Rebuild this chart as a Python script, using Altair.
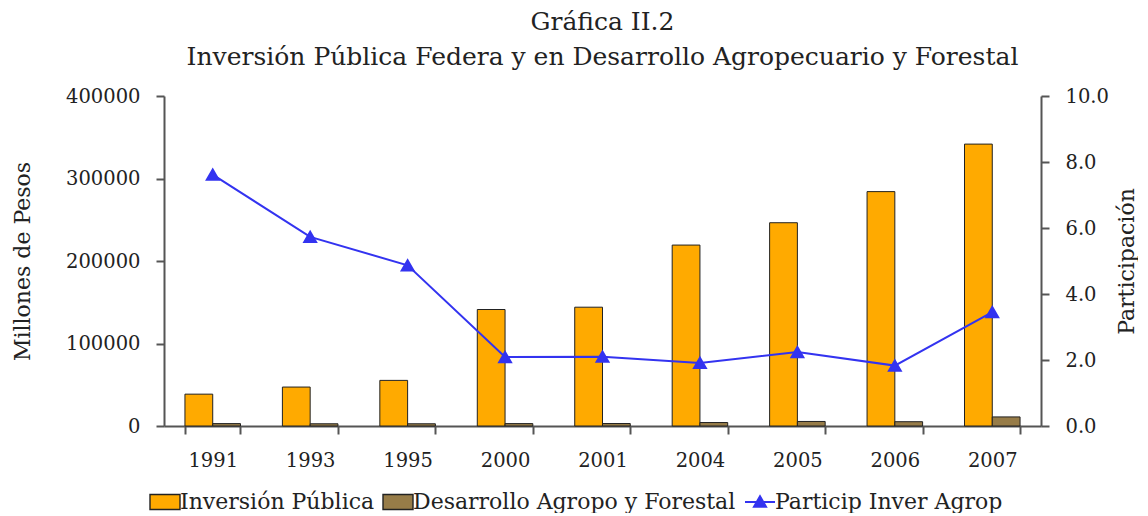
import altair as alt
import pandas as pd

years = ["1991", "1993", "1995", "2000", "2001", "2004", "2005", "2006", "2007"]
inversion = [38600, 47200, 55300, 141200, 144000, 219300, 246400, 284100, 341700]
desarrollo = [2900, 2700, 2700, 2900, 3000, 4200, 5500, 5200, 11000]
particip = [7.62, 5.73, 4.87, 2.09, 2.10, 1.91, 2.24, 1.83, 3.45]
series_names = ["Inversión Pública", "Desarrollo Agropo y Forestal", "Particip Inver Agrop"]
series_colors = ["#FFAA00", "#977C48", "#3333F0"]
series_strokes = ["#222222", "#222222", "#3333F0"]

FONT = "DejaVu Serif"
TXT = "#222222"

bar_df = pd.DataFrame({
    "year": years * 2,
    "serie": [series_names[0]] * len(years) + [series_names[1]] * len(years),
    "valor": inversion + desarrollo,
})
line_df = pd.DataFrame({"year": years, "part": particip})

xscale = alt.Scale(paddingInner=0.43, paddingOuter=0.215)

shape_sig = ("datum.value === 'Particip Inver Agrop' ? "
             "'M-1,0H1M-0.4,0.32L0,-0.38L0.4,0.32Z' : 'M-1,-0.5H1V0.5H-1Z'")
sw_sig = "datum.value === 'Particip Inver Agrop' ? 2 : 1.4"

legend = alt.Legend(
    orient="none", legendX=-10, legendY=395, direction="horizontal", title=None,
    labelFont=FONT, labelFontSize=22, labelColor=TXT, labelLimit=500,
    symbolSize=900, labelOffset=4, columnPadding=5,
    symbolType={"expr": shape_sig},
    symbolStrokeWidth={"expr": sw_sig},
)

bars = alt.Chart(bar_df).mark_bar(strokeWidth=1).encode(
    x=alt.X("year:N", sort=years, scale=xscale, title=None,
            axis=alt.Axis(labelAngle=0, tickBand="extent", labelPadding=17, tickSize=8)),
    xOffset=alt.XOffset("serie:N", sort=series_names[:2], scale=alt.Scale(paddingInner=0, paddingOuter=0)),
    y=alt.Y("valor:Q", scale=alt.Scale(domain=[0, 400000]),
            axis=alt.Axis(values=[0, 100000, 200000, 300000, 400000], format="d",
                          title="Millones de Pesos", grid=False, tickSize=8, labelPadding=16,
                          titlePadding=31)),
    color=alt.Color("serie:N", scale=alt.Scale(domain=series_names, range=series_colors), legend=legend),
    stroke=alt.Stroke("serie:N", scale=alt.Scale(domain=series_names, range=series_strokes), legend=legend),
)

line = alt.Chart(line_df).mark_line(
    strokeWidth=2,
    point=alt.OverlayMarkDef(shape="triangle-up", filled=True, size=140, color="#0000DD"),
).encode(
    x=alt.X("year:N", sort=years),
    y=alt.Y("part:Q", scale=alt.Scale(domain=[0, 10]),
            axis=alt.Axis(orient="right", values=[0, 2, 4, 6, 8, 10], format=".1f",
                          title="Participación", titleAngle=270, grid=False, tickSize=8,
                          labelPadding=16, titlePadding=30)),
    color=alt.datum(series_names[2]),
    stroke=alt.datum(series_names[2]),
)

chart = alt.layer(bars, line).resolve_scale(y="independent").properties(
    width=877, height=330,
    padding={"left": 3, "top": 2, "right": 0, "bottom": 0},
    title=alt.Title(["Gráfica II.2",
                     "Inversión Pública Federa y en Desarrollo Agropecuario y Forestal"],
                    font=FONT, fontSize=25, fontWeight="normal", color=TXT,
                    anchor="middle", offset=16, lineHeight=35),
).configure_axis(
    labelFont=FONT, labelFontSize=19.5, labelColor=TXT,
    titleFont=FONT, titleFontSize=22, titleFontWeight="normal", titleColor=TXT,
    domainColor="#555555", tickColor="#555555", domainWidth=2, tickWidth=2,
).configure_view(stroke=None)

chart.save("out.html", embed_options={"renderer": "svg", "actions": False})
